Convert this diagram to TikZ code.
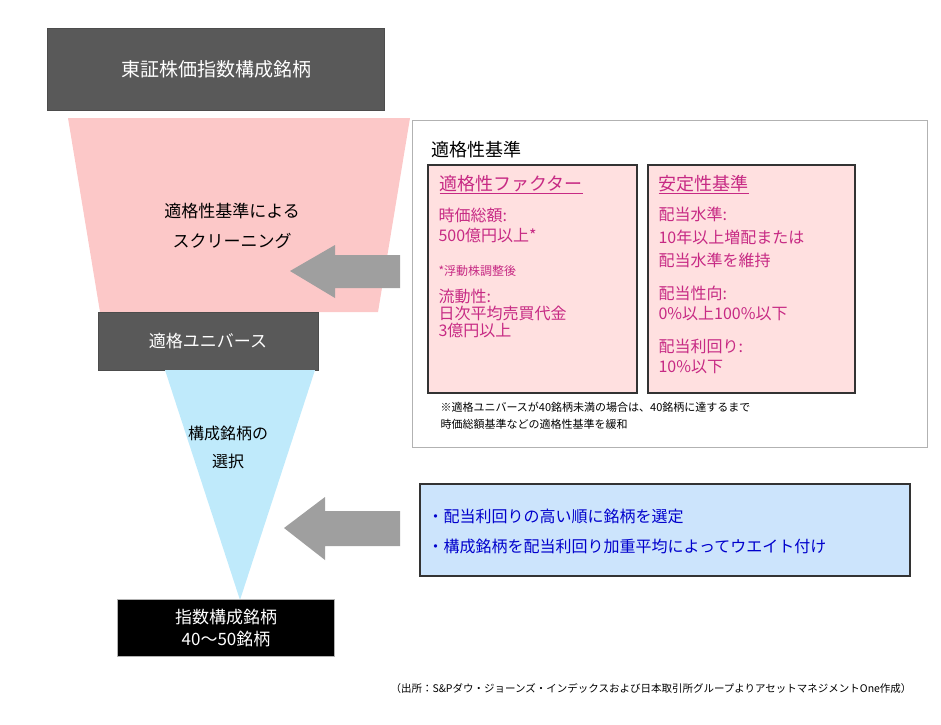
\documentclass[tikz,border=0pt]{standalone}
\usepackage{fontspec}
\setmainfont{Noto Sans CJK JP}
\definecolor{skyb}{RGB}{204,228,252}
\definecolor{pinkf}{RGB}{252,200,200}
\begin{document}
\begin{tikzpicture}[x=1pt,y=-1pt,
  graybox/.style={draw=gray!60!black,fill=gray!70!black,line width=1pt},
  crit/.style={draw=black!80,fill=red!12,line width=1.5pt},
  pinktxt/.style={text=magenta!80!black,align=left,anchor=north west,font=\fontsize{16}{20}\selectfont},
  arr/.style={fill=gray!75,draw=none}]
\useasboundingbox (0,0) rectangle (941,724);
\node[graybox,minimum width=337pt,minimum height=82pt,text=white,font=\fontsize{19}{22}\selectfont] (top) at (216,69) {東証株価指数構成銘柄};
\fill[pinkf] (68,118) -- (410,118) -- (378,312) -- (100,312) -- cycle;
\node[font=\fontsize{17}{30}\selectfont,align=center] (scr) at (232,226) {適格性基準による\\スクリーニング};
\node[graybox,minimum width=220pt,minimum height=58pt,text=white,font=\fontsize{17}{20}\selectfont] (univ) at (208,341) {適格ユニバース};
\fill[cyan!25] (165,370) -- (315,370) -- (240,600) -- cycle;
\node[font=\fontsize{16}{28}\selectfont,align=center] (sel) at (228,447) {構成銘柄の\\選択};
\node[draw=gray!60,fill=black,line width=1pt,minimum width=217pt,minimum height=57pt,text=white,align=center,font=\fontsize{17}{22}\selectfont] (idx) at (226,628) {指数構成銘柄\\40〜50銘柄};
\fill[arr] (400,255) -- (335,255) -- (335,245) -- (290,271) -- (335,298) -- (335,288) -- (400,288) -- cycle;
\fill[arr] (400,511) -- (325,511) -- (325,497) -- (284,528) -- (325,560) -- (325,546) -- (400,546) -- cycle;
\node[draw=gray!60,fill=white,line width=1pt,minimum width=515pt,minimum height=327pt] (frame) at (669.5,283.5) {};
\node[anchor=west,font=\fontsize{18}{20}\selectfont] (ft) at (428,150) {適格性基準};
\node[crit,minimum width=209pt,minimum height=228pt] (c1) at (532.5,279) {};
\node[crit,minimum width=207pt,minimum height=228pt] (c2) at (751.5,279) {};
\node[pinktxt] (c1t) at (436,172) {\underline{\fontsize{18}{20}\selectfont 適格性ファクター}};
\node[pinktxt] (c1a) at (435,205) {時価総額:\\500億円以上*};
\node[pinktxt,font=\fontsize{12}{14}\selectfont] (c1b) at (435,262) {*浮動株調整後};
\node[pinktxt,font=\fontsize{16}{17}\selectfont] (c1c) at (435,286) {流動性:\\日次平均売買代金\\3億円以上};
\node[pinktxt] (c2t) at (655,172) {\underline{\fontsize{18}{20}\selectfont 安定性基準}};
\node[pinktxt,font=\fontsize{16}{23}\selectfont] (c2a) at (655,203) {配当水準:\\10年以上増配または\\配当水準を維持};
\node[pinktxt] (c2b) at (655,282) {配当性向:\\0\%以上100\%以下};
\node[pinktxt] (c2c) at (655,336) {配当利回り:\\10\%以下};
\node[anchor=north west,align=left,font=\fontsize{11}{17}\selectfont] (note) at (437,399) {※適格ユニバースが40銘柄未満の場合は、40銘柄に達するまで\\時価総額基準などの適格性基準を緩和};
\node[draw=black!80,fill=skyb,line width=1.5pt,minimum width=490pt,minimum height=92pt] (bb) at (665,530) {};
\node[anchor=west,align=left,text=blue!80!black,font=\fontsize{16}{30}\selectfont] (bbt) at (424,531) {・配当利回りの高い順に銘柄を選定\\・構成銘柄を配当利回り加重平均によってウエイト付け};
\node[anchor=east,font=\fontsize{10.5}{12}\selectfont] (foot) at (915,688) {（出所：S\&Pダウ・ジョーンズ・インデックスおよび日本取引所グループよりアセットマネジメントOne作成）};
\end{tikzpicture}
\end{document}
